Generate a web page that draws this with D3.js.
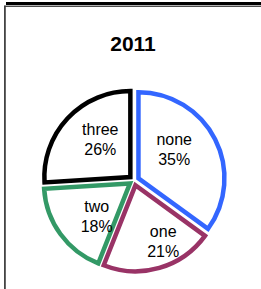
<!DOCTYPE html>
<html>
<head>
<meta charset="utf-8">
<script src="https://cdn.jsdelivr.net/npm/d3@7"></script>
<style>
  html, body { margin: 0; padding: 0; background: #fff; }
  svg { display: block; }
</style>
</head>
<body>
<svg id="chart" width="261" height="289"></svg>
<script>
// ---- data ----
const title = "2011";
const categories = ["none", "one", "two", "three"];
const values = [35, 21, 18, 26];
const percentLabels = ["35%", "21%", "18%", "26%"];
const colors = ["#3366ff", "#993366", "#339966", "#000000"];

// ---- layout ----
const W = 261, H = 289;
const cx = 134, cy = 180.5, R = 86, explode = 5;
// label placement tweaks (degrees from mid-angle, distance from slice origin)
const labelAngleShift = [-12, -10, -9, 8];
const labelDist = [46, 63, 47, 48];

const svg = d3.select("#chart");

// frame
svg.append("rect").attr("x", 6).attr("y", 2).attr("width", W - 6).attr("height", 3).attr("fill", "#000");
svg.append("rect").attr("x", 4).attr("y", 5.7).attr("width", W - 4).attr("height", 1).attr("fill", "#000");
svg.append("rect").attr("x", 4).attr("y", 5.7).attr("width", 1.8).attr("height", H).attr("fill", "#444");

svg.append("text")
  .attr("x", 133).attr("y", 51)
  .attr("text-anchor", "middle")
  .attr("font-family", "Liberation Sans, Arial, sans-serif")
  .attr("font-weight", "bold")
  .attr("font-size", 21)
  .attr("fill", "#000")
  .text(title);

const pie = d3.pie().sort(null).value(d => d.value).startAngle(0).endAngle(2 * Math.PI);
const data = categories.map((c, i) => ({ cat: c, value: values[i], pct: percentLabels[i], color: colors[i], i }));
const arcs = pie(data);
const arc = d3.arc().innerRadius(0).outerRadius(R);

const g = svg.append("g").attr("transform", `translate(${cx},${cy})`);

const slices = g.selectAll("g.slice").data(arcs).join("g")
  .attr("class", "slice")
  .attr("transform", d => {
    const a = (d.startAngle + d.endAngle) / 2;
    return `translate(${explode * Math.sin(a)},${-explode * Math.cos(a)})`;
  });

slices.append("path")
  .attr("d", arc)
  .attr("fill", "#fff")
  .attr("stroke", d => d.data.color)
  .attr("stroke-width", 4.5)
  .attr("stroke-linejoin", "miter");

const labels = slices.append("text")
  .attr("text-anchor", "middle")
  .attr("font-family", "Liberation Sans, Arial, sans-serif")
  .attr("font-size", 16)
  .attr("fill", "#000")
  .attr("transform", d => {
    const a = (d.startAngle + d.endAngle) / 2 + labelAngleShift[d.data.i] * Math.PI / 180;
    const r = labelDist[d.data.i];
    return `translate(${r * Math.sin(a)},${-r * Math.cos(a)})`;
  });
labels.append("tspan").attr("x", 0).attr("y", -4.5).text(d => d.data.cat);
labels.append("tspan").attr("x", 0).attr("y", 15.5).text(d => d.data.pct);
</script>
</body>
</html>
